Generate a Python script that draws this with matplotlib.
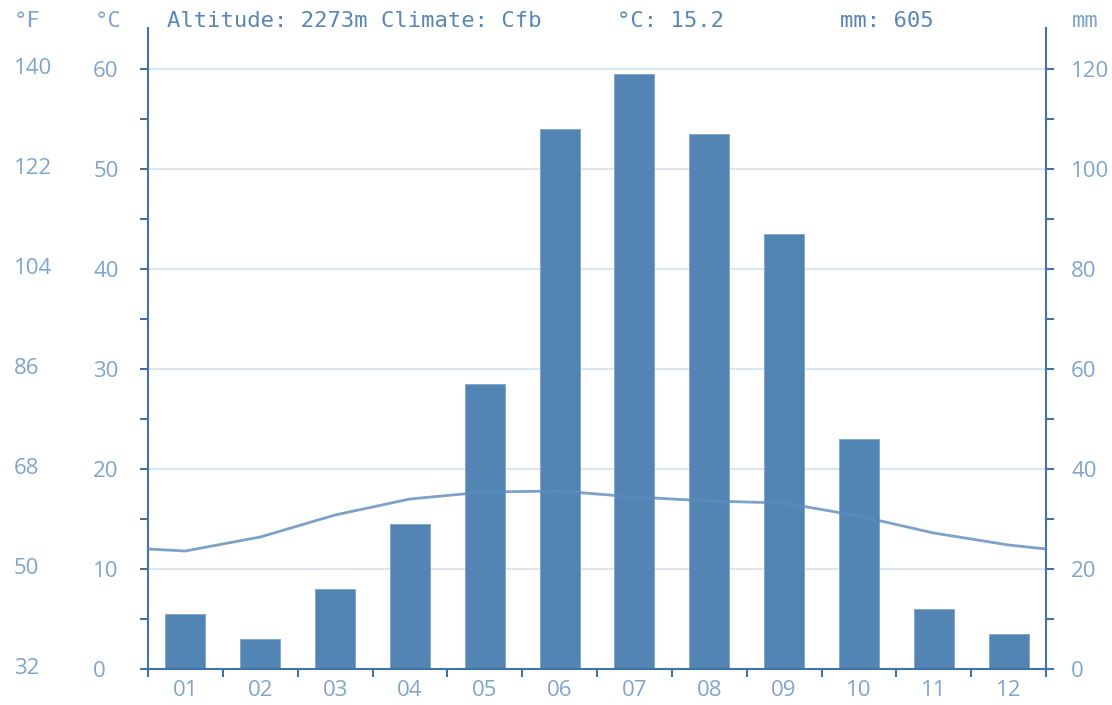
import numpy as np
import matplotlib
matplotlib.use('Agg')
import matplotlib.pyplot as plt
import matplotlib.transforms as mtransforms

# ---- data
months = ['01', '02', '03', '04', '05', '06', '07', '08', '09', '10', '11', '12']
precip_mm = [11, 6, 16, 29, 57, 108, 119, 107, 87, 46, 12, 7]
temp_c = [11.8, 13.2, 15.4, 17.0, 17.7, 17.8, 17.2, 16.8, 16.6, 15.3, 13.6, 12.4]
temp_edge = 12.0   # where the line meets both side axes

c_ticks = [0, 10, 20, 30, 40, 50, 60]
f_ticks = [32, 50, 68, 86, 104, 122, 140]
mm_ticks = [0, 20, 40, 60, 80, 100, 120]

header = 'Altitude: 2273m Climate: Cfb'
mean_temp = '°C: 15.2'
total_mm = 'mm: 605'

# ---- colours
bar_col = '#5285b4'
line_col = '#5b8bbd'
spine_col = '#4273a8'
label_col = '#7fa5cc'
head_col = '#5a87b6'
grid_col = '#dce6f0'

LS = 16      # tick label size
HS = 16      # header size
sans = 'Open Sans'
mono = 'DejaVu Sans Mono'

W, H = 1112, 705
fig = plt.figure(figsize=(W / 100, H / 100), dpi=100)
left, right, bottom, top = 148, 1046, 669, 28
ax = fig.add_axes([left / W, 1 - bottom / H, (right - left) / W, (bottom - top) / H])
axc = ax.twinx()

# precipitation (mm) on the base axes, ticks on the right
x = np.arange(1, 13)
ax.bar(x, precip_mm, width=0.535, color=bar_col, edgecolor='#7fa3c8', linewidth=0.6, zorder=2)
ax.set_xlim(0.5, 12.5)
ax.set_ylim(0, 128.2)
ax.yaxis.tick_right()
ax.set_yticks(mm_ticks)
ax.set_yticks(np.arange(10, 121, 20), minor=True)
ax.grid(axis='y', which='major', color=grid_col, linewidth=1.5, zorder=0)
ax.set_axisbelow(True)

# months
ax.set_xticks(np.arange(0.5, 13, 1))
ax.set_xticklabels([])
ax.set_xticks(x, minor=True)
ax.set_xticklabels(months, minor=True)
ax.tick_params(axis='x', which='major', direction='out', length=6, width=1.5, color=spine_col)
ax.tick_params(axis='x', which='minor', length=0, pad=8, labelsize=LS, labelcolor=label_col)
ax.tick_params(axis='y', which='both', direction='out', length=6, width=1.5, color=spine_col,
               pad=12, labelsize=LS, labelcolor=label_col)

for s in ['left', 'right', 'bottom']:
    ax.spines[s].set_color(spine_col)
    ax.spines[s].set_linewidth(1.5)
ax.spines['top'].set_visible(False)

# temperature (°C) on the twin, ticks on the left
axc.set_ylim(0, 64.1)
axc.yaxis.tick_left()
axc.set_yticks(c_ticks)
axc.set_yticks(np.arange(5, 60, 10), minor=True)
axc.tick_params(axis='y', which='both', direction='out', length=6, width=1.5, color=spine_col,
                pad=33.5, labelsize=LS, labelcolor=label_col)
for lab in axc.get_yticklabels():
    lab.set_horizontalalignment('left')
for s in axc.spines.values():
    s.set_visible(False)

tx = [0.5] + list(x) + [12.5]
ty = [temp_edge] + temp_c + [temp_edge]
axc.plot(tx, ty, color=line_col, linewidth=2, alpha=0.8, solid_capstyle='butt', zorder=3)

for t in ax.get_xticklabels(minor=True) + ax.get_yticklabels() + axc.get_yticklabels():
    t.set_fontfamily(sans)

# fahrenheit labels
trans = mtransforms.blended_transform_factory(fig.transFigure, axc.transData)
for c, f in zip(c_ticks, f_ticks):
    fig.text(14 / W, c, str(f), transform=trans, ha='left', va='center',
             fontsize=LS, color=label_col, family=sans)

# header line
hy = 1 - 21 / H
fig.text(14 / W, hy, '°F', ha='left', va='center', family=mono, fontsize=HS, color=label_col)
fig.text(95 / W, hy, '°C', ha='left', va='center', family=mono, fontsize=HS, color=label_col)
fig.text(167 / W, hy, header, ha='left', va='center', family=mono, fontsize=HS, color=head_col)
fig.text(617 / W, hy, mean_temp, ha='left', va='center', family=mono, fontsize=HS, color=head_col)
fig.text(840 / W, hy, total_mm, ha='left', va='center', family=mono, fontsize=HS, color=head_col)
fig.text(1072 / W, hy, 'mm', ha='left', va='center', family=mono, fontsize=HS, color=label_col)

fig.savefig('out.png', dpi=100)
